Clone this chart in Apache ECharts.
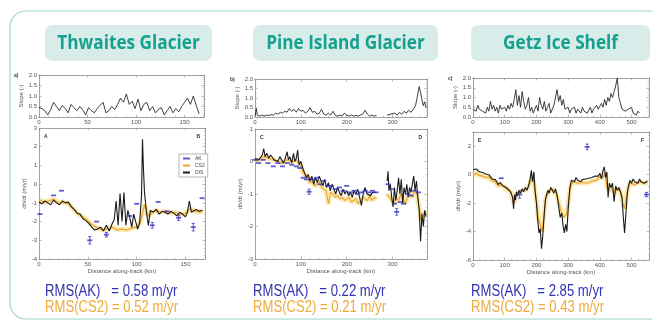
<!DOCTYPE html>
<html>
<head>
<meta charset="utf-8">
<script src="https://cdn.jsdelivr.net/npm/echarts@6/dist/echarts.min.js"></script>
<style>
    html, body { margin: 0; padding: 0; background: #fff; }
    #chart { width: 652px; height: 322px; }
</style>
</head>
<body>
<div id="chart"></div>
<script>
(function() {
    'use strict';

    // panel headers and RMS values
    var glacierNames = ['Thwaites Glacier', 'Pine Island Glacier', 'Getz Ice Shelf'];
    var rmsAk = ['0.58', '0.22', '2.85'];
    var rmsCs2 = ['0.52', '0.21', '0.43'];
    var panelLetters = [['A', 'B'], ['C', 'D'], ['E', 'F']];
    var slopeLetters = ['a)', 'b)', 'c)'];

    // axes
    var distMax = [170, 375, 555];
    var distStep = [50, 100, 100];
    var dhMin = [-4, -3, -6];
    var dhMax = [3, 1, 3];
    var dhStep = [1, 1, 2];
    var slopeTicks = [0, 0.5, 1.0, 1.5, 2.0];
    var legendNames = ['AK', 'CS2', 'DIS'];

    // Thwaites: [distance km, value]
    var thwSlope = [[0,0.45],[3,0.4],[6,0.3],[9,0.1],[12,0.35],[15,0.7],[18,0.5],[21,0.3],[24,0.55],[27,0.4],[30,0.2],[33,0.6],[36,0.45],[39,0.3],[42,0.5],[45,0.35],[48,0.1],[51,0.45],[54,0.3],[57,0.2],[60,0.4],[63,0.55],[66,0.7],[69,0.2],[72,0.3],[75,0.5],[78,0.35],[81,0.6],[84,0.9],[87,0.7],[90,1.1],[93,0.6],[96,0.75],[99,0.4],[102,0.85],[105,0.3],[108,0.6],[111,0.7],[114,0.3],[117,0.5],[120,0.2],[123,0.35],[126,0.45],[129,0.1],[132,0.3],[135,0.5],[138,0.2],[141,0.4],[144,0.25],[147,0.5],[150,0.7],[153,0.9],[156,0.6],[159,1.0],[162,0.55],[165,0.15]];
    var thwDis = [[0,-0.95],[3,-1.05],[6,-0.9],[9,-1.0],[12,-1.1],[15,-0.85],[18,-1.0],[21,-1.1],[24,-0.9],[27,-1.0],[30,-0.95],[33,-1.2],[36,-1.35],[39,-1.55],[42,-1.6],[45,-1.85],[48,-1.95],[51,-2.1],[54,-2.3],[57,-2.45],[60,-2.4],[63,-2.3],[66,-2.5],[69,-2.2],[72,-2.5],[75,-2.1],[77,-1.9],[79,-0.9],[81,-2.2],[83,-0.5],[85,-2.0],[87,-0.45],[89,-2.2],[91,-1.4],[93,-1.8],[95,-2.3],[97,-1.6],[99,-2.0],[101,-2.4],[103,-2.1],[105,-0.6],[106,2.4],[107,0.8],[108,-0.4],[110,-1.5],[112,-2.2],[114,-1.4],[117,-1.5],[120,-1.35],[123,-1.6],[126,-1.45],[129,-1.5],[132,-1.6],[135,-1.45],[138,-1.55],[141,-1.7],[144,-1.5],[147,-1.6],[150,-1.75],[152,-1.5],[154,-0.9],[156,-1.5],[158,-1.6],[161,-1.35],[164,-1.45],[167,-1.4]];
    var thwCs2 = [[0,-0.85],[5,-0.95],[10,-0.9],[15,-0.8],[20,-1.0],[25,-0.95],[30,-1.05],[35,-1.3],[40,-1.6],[45,-1.75],[50,-1.95],[55,-2.2],[60,-2.35],[65,-2.45],[70,-2.4],[75,-2.3],[80,-2.45],[85,-2.4],[90,-2.45],[95,-2.35],[100,-2.3],[104,-2.0],[108,-1.1],[112,-1.7],[116,-1.5],[120,-1.4],[125,-1.5],[130,-1.45],[135,-1.55],[140,-1.5],[145,-1.65],[150,-1.55],[155,-1.3],[160,-1.45],[165,-1.5],[168,-1.4]];
    // [distance, dh/dt, error half-width]
    var thwAk = [[1,-1.6,0],[15,-0.6,0],[23,-0.35,0],[52,-3.0,0.2],[59,-2.0,0],[69,-2.7,0.12],[93,-1.7,0],[100,-1.05,0],[116,-2.2,0.15],[122,-0.95,0],[131,-1.45,0],[143,-1.8,0.15],[158,-2.3,0.2],[167,-0.75,0]];

    // Pine Island
    var pigSlope = [[0,0.05],[3,0.45],[5,0.1],[10,0.05],[15,0.1],[20,0.05],[25,0.1],[30,0.08],[35,0.12],[40,0.1],[45,0.2],[50,0.15],[55,0.25],[60,0.2],[65,0.3],[70,0.25],[75,0.45],[80,0.3],[85,0.4],[90,0.25],[95,0.45],[100,0.3],[105,0.35],[110,0.2],[115,0.3],[120,0.5],[125,0.25],[130,0.3],[135,0.15],[140,0.2],[145,0.4],[150,0.15],[155,0.1],[160,0.2],[165,0.1],[170,0.3],[175,0.08],[180,0.05],[185,0.1],[190,0.05],[195,0.2],[200,0.1],[205,0.05],[210,0.1],[215,0.05],[220,0.08],[225,0.05],[230,0.1],[235,0.15],[240,0.35],[245,0.15],[250,0.05],[255,0.1],[260,0.05],[265,0.08],[268,'-'],[288,0.1],[292,0.05],[296,0.15],[300,0.1],[305,0.2],[310,0.1],[315,0.25],[320,0.15],[325,0.3],[330,0.2],[335,0.35],[340,0.25],[345,0.4],[350,0.6],[355,1.2],[358,1.6],[361,1.3],[364,0.9],[367,0.6],[370,0.8],[373,0.5]];
    var pigDis = [[0,0.1],[4,0.15],[8,0.05],[12,0.1],[16,0.2],[19,0.4],[22,0.15],[26,0.25],[30,0.1],[34,0.2],[38,0.15],[42,0.05],[46,0.1],[50,0.0],[54,0.15],[58,0.05],[62,-0.05],[66,0.1],[70,0.3],[73,0.05],[76,0.15],[80,-0.05],[84,0.25],[87,0.0],[90,0.1],[93,0.35],[96,-0.1],[100,0.0],[104,-0.2],[108,-0.35],[112,-0.5],[116,-0.4],[120,-0.6],[124,-0.45],[128,-0.7],[132,-0.5],[136,-0.65],[140,-0.45],[144,-0.6],[148,-0.75],[152,-0.55],[156,-0.8],[160,-0.65],[164,-0.9],[168,-0.7],[172,-0.85],[176,-1.0],[180,-0.8],[184,-0.95],[188,-1.05],[192,-0.85],[196,-1.0],[200,-0.9],[204,-1.05],[208,-0.95],[212,-1.1],[216,-0.9],[220,-1.0],[224,-0.85],[228,-1.1],[232,-1.35],[236,-1.0],[240,-0.8],[244,-1.0],[248,-0.95],[252,-1.05],[256,-0.95],[260,-1.0],[264,-0.95],[268,'-'],[288,-0.6],[290,-0.3],[292,-0.9],[295,-0.7],[298,-1.1],[301,-1.4],[304,-0.8],[307,-1.2],[310,-0.9],[313,-0.5],[316,-1.0],[319,-0.55],[322,-1.3],[325,-0.8],[328,-1.0],[331,-0.7],[334,-1.1],[337,-0.8],[340,-0.95],[343,-0.7],[346,-0.45],[349,-0.9],[352,-0.6],[355,-1.1],[358,-1.5],[361,-2.45],[364,-1.6],[367,-2.0],[370,-1.5],[373,-1.7]];
    var pigCs2 = [[0,0.0],[10,0.05],[20,0.15],[30,0.1],[40,0.05],[50,0.0],[60,-0.05],[70,0.05],[80,0.0],[90,0.05],[100,-0.15],[105,-0.35],[110,-0.4],[115,-0.5],[120,-0.65],[125,-0.6],[130,-0.75],[135,-0.7],[140,-0.6],[145,-0.8],[150,-0.85],[155,-0.9],[160,-1.3],[165,-0.95],[170,-1.0],[175,-1.1],[180,-1.05],[185,-1.15],[190,-1.1],[195,-1.2],[200,-1.15],[205,-1.1],[210,-1.25],[215,-1.2],[220,-1.15],[225,-1.3],[230,-1.2],[235,-1.1],[240,-1.15],[245,-1.2],[250,-1.05],[255,-1.2],[260,-1.1],[265,-1.15],[268,'-'],[288,-1.0],[293,-1.1],[298,-1.2],[303,-1.3],[308,-1.1],[313,-1.2],[318,-1.0],[323,-1.15],[328,-1.3],[333,-1.05],[338,-1.0],[343,-1.1],[348,-0.9],[353,-1.0],[358,-1.4],[362,-1.8],[366,-1.7],[370,-1.55],[373,-1.6]];
    var pigAk = [[0,0.05,0],[8,-0.05,0],[18,0.05,0],[28,-0.05,0],[40,-0.15,0],[50,-0.05,0],[60,-0.15,0],[70,-0.05,0],[80,-0.1,0],[90,-0.15,0],[98,-0.2,0],[105,-0.5,0],[112,-0.55,0],[118,-0.93,0.08],[126,-0.55,0],[134,-0.5,0],[142,-0.7,0],[150,-0.6,0],[158,-0.75,0],[166,-0.75,0],[175,-0.85,0],[184,-0.8,0],[192,-0.9,0],[200,-0.75,0],[208,-0.95,0],[216,-0.9,0],[224,-1.0,0],[232,-0.95,0],[240,-0.9,0],[248,-0.95,0],[256,-0.9,0],[264,-0.95,0],[290,-0.7,0],[297,-0.85,0],[304,-1.3,0],[309,-1.55,0.1],[316,-1.25,0],[324,-1.3,0],[332,-1.0,0],[340,-1.05,0],[348,-0.9,0],[356,-0.95,0]];

    // Getz
    var getzSlope = [[0,0.4],[5,0.5],[10,0.3],[15,0.6],[20,0.4],[25,0.5],[30,0.3],[35,0.4],[40,0.2],[45,0.5],[50,0.3],[55,0.8],[60,0.4],[65,0.6],[70,0.3],[75,0.5],[80,0.2],[85,0.6],[90,0.4],[95,0.3],[100,0.5],[105,0.3],[110,0.6],[115,0.4],[120,0.7],[125,0.5],[130,0.9],[135,1.4],[140,0.6],[145,1.1],[150,0.5],[155,1.3],[160,0.8],[165,0.4],[170,0.6],[175,1.0],[180,0.3],[185,0.5],[190,0.2],[195,0.4],[200,0.6],[205,0.3],[210,1.0],[215,0.6],[220,0.4],[225,0.8],[230,0.3],[235,0.5],[240,0.7],[245,0.2],[250,0.4],[255,0.6],[260,0.5],[265,1.4],[270,0.8],[275,1.1],[280,0.6],[285,0.9],[290,0.4],[295,0.3],[300,0.5],[305,0.2],[310,0.4],[315,0.3],[320,0.5],[325,0.2],[330,0.4],[335,0.3],[340,0.2],[345,0.5],[350,0.3],[355,0.4],[360,0.2],[365,0.3],[370,0.5],[375,0.2],[380,0.4],[385,0.3],[390,0.6],[395,0.4],[400,0.5],[405,0.7],[410,0.5],[415,0.9],[420,0.6],[425,1.0],[430,0.8],[435,1.2],[440,1.0],[445,1.3],[450,1.6],[455,2.0],[460,1.0],[465,0.7],[470,0.4],[475,0.5],[480,0.3],[485,0.2],[490,0.4],[495,0.3],[500,0.5],[505,0.2],[510,0.3],[515,0.1],[520,0.3],[525,0.2]];
    var getzDis = [[0,0.35],[5,0.25],[10,0.4],[15,0.3],[20,0.2],[25,0.3],[30,0.15],[35,0.2],[40,0.05],[45,0.1],[50,0.0],[55,-0.1],[60,-0.3],[65,-0.2],[70,-0.35],[75,-0.5],[80,-0.7],[85,-0.55],[90,-0.6],[95,-0.8],[100,-0.7],[105,-0.9],[110,-1.0],[115,-1.1],[120,-1.3],[125,-1.6],[128,-2.4],[131,-1.4],[134,-1.8],[137,-1.2],[140,-1.5],[145,-1.1],[150,-1.3],[155,-1.0],[160,-1.2],[165,-0.9],[170,-1.1],[175,-0.8],[180,-0.3],[184,0.3],[188,-0.5],[192,0.2],[196,-1.2],[200,-2.0],[204,-3.2],[208,-4.1],[212,-3.8],[216,-5.2],[220,-4.3],[224,-3.0],[228,-1.8],[232,-1.4],[236,-1.1],[240,-1.3],[245,-0.9],[250,-1.1],[255,-1.3],[260,-1.0],[265,-1.4],[270,-2.2],[275,-3.0],[280,-2.7],[284,-3.6],[288,-4.1],[292,-3.5],[296,-4.0],[300,-2.5],[305,-1.0],[310,-0.4],[315,-0.3],[320,-0.5],[325,-0.2],[330,-0.4],[335,-0.3],[340,-0.5],[345,-0.35],[350,-0.45],[355,-0.3],[360,-0.4],[365,-0.25],[370,-0.35],[375,-0.2],[380,-0.3],[385,-0.1],[390,-0.2],[395,-0.1],[400,0.1],[405,-0.3],[410,0.3],[414,0.55],[418,-0.2],[422,0.2],[426,-1.6],[430,-0.6],[435,-0.9],[440,-0.6],[445,-1.9],[450,-0.8],[455,-1.1],[460,-0.9],[465,-1.2],[470,-1.6],[474,-3.0],[478,-4.1],[482,-2.8],[486,-1.5],[490,-0.8],[495,-0.4],[500,-0.6],[505,-0.3],[510,-0.5],[515,-0.4],[520,-0.6],[525,-0.3],[530,-0.5],[535,-0.4],[540,-0.6],[545,-0.5],[550,-0.45]];
    var getzCs2 = [[0,0.0],[10,0.1],[20,-0.05],[30,-0.1],[40,-0.2],[50,-0.15],[60,-0.4],[70,-0.5],[80,-0.8],[90,-0.7],[100,-0.9],[110,-1.1],[120,-1.2],[128,-2.0],[134,-1.5],[140,-1.3],[150,-1.2],[160,-1.1],[170,-1.0],[180,-0.6],[186,-0.2],[192,-0.6],[200,-1.8],[206,-3.0],[212,-3.5],[218,-4.0],[224,-2.8],[230,-1.6],[240,-1.2],[250,-1.0],[260,-1.2],[270,-1.9],[278,-2.6],[286,-3.0],[294,-2.8],[300,-2.0],[308,-0.8],[315,-0.5],[330,-0.6],[345,-0.55],[360,-0.6],[375,-0.45],[390,-0.4],[400,-0.1],[410,-0.2],[416,0.1],[424,-1.0],[432,-0.8],[445,-1.3],[455,-1.0],[465,-1.2],[472,-2.0],[478,-2.4],[486,-1.2],[495,-0.6],[510,-0.7],[525,-0.5],[540,-0.6],[550,-0.55]];
    var getzAk = [[89,-0.25,0],[147,-1.4,0.25],[360,1.95,0.2],[547,-1.4,0.15]];

    var slopeData = [thwSlope, pigSlope, getzSlope];
    var disData = [thwDis, pigDis, getzDis];
    var cs2Data = [thwCs2, pigCs2, getzCs2];
    var akData = [thwAk, pigAk, getzAk];

    // plot boxes in px
    var boxes = [
        { slope: { left: 39, top: 75, width: 165, height: 42 }, main: { left: 39, top: 128, width: 166, height: 131 } },
        { slope: { left: 255, top: 79, width: 172, height: 38 }, main: { left: 255, top: 129, width: 172, height: 130 } },
        { slope: { left: 473, top: 78, width: 176, height: 39 }, main: { left: 473, top: 132, width: 176, height: 128 } }
    ];
    var pills = [{ x: 45, w: 167 }, { x: 253, w: 185 }, { x: 471, w: 179 }];

    var AK_COLOR = '#3535c4';
    var CS2_COLOR = '#efa62e';
    var DIS_COLOR = '#1b1b1b';
    var AXIS_COLOR = '#8c8c8c';

    var option = {
        animation: false,
        backgroundColor: '#fff',
        grid: [],
        xAxis: [],
        yAxis: [],
        series: [],
        graphic: [],
        legend: {
            data: legendNames,
            orient: 'vertical',
            left: 179,
            top: 154,
            itemWidth: 7,
            itemHeight: 2,
            itemGap: 2,
            padding: [2, 3],
            borderColor: '#888',
            borderWidth: 0.6,
            backgroundColor: '#fff',
            textStyle: { fontSize: 5, color: '#444', fontFamily: 'Liberation Sans' }
        }
    };

    function onStep(v, step) {
        return Math.abs(Math.round(v / step) * step - v) < 1e-6;
    }

    function addAxes(gi, xmax, xstep, ymin, ymax, ystep, xName, yName, digits) {
        var line = { show: true, onZero: false, lineStyle: { color: AXIS_COLOR, width: 0.8 } };
        var tick = { show: true, inside: true, length: 2.5, lineStyle: { color: AXIS_COLOR, width: 0.6 } };
        var minor = { show: true, splitNumber: 5, length: 1.3, lineStyle: { color: '#a0a0a0', width: 0.5 } };
        var label = { fontSize: 6, color: '#555', margin: 2, fontFamily: 'Liberation Sans' };
        var nameStyle = { fontSize: 6, color: '#555', fontFamily: 'Liberation Sans' };
        ['bottom', 'top'].forEach(function(pos) {
            option.xAxis.push({
                type: 'value', gridIndex: gi, position: pos, min: 0, max: xmax, interval: xstep,
                axisLine: line, axisTick: tick, minorTick: minor, splitLine: { show: false },
                axisLabel: pos === 'bottom' ? Object.assign({}, label, {
                    formatter: function(v) { return onStep(v, xstep) ? String(v) : ''; }
                }) : { show: false },
                name: pos === 'bottom' ? xName : '', nameLocation: 'middle', nameGap: 9, nameTextStyle: nameStyle
            });
        });
        ['left', 'right'].forEach(function(pos) {
            option.yAxis.push({
                type: 'value', gridIndex: gi, position: pos, min: ymin, max: ymax, interval: ystep,
                axisLine: line, axisTick: tick, minorTick: minor, splitLine: { show: false },
                axisLabel: pos === 'left' ? Object.assign({}, label, {
                    formatter: function(v) { return onStep(v, ystep) ? v.toFixed(digits) : ''; }
                }) : { show: false },
                name: pos === 'left' ? yName : '', nameLocation: 'middle', nameGap: digits ? 13 : 10, nameTextStyle: nameStyle
            });
        });
    }

    function text(x, y, str, font, color, align, sx) {
        return {
            type: 'text', x: x, y: y, scaleX: sx || 1, z: 10,
            style: { x: 0, y: 0, text: str, font: font, fill: color, align: align, textAlign: align, verticalAlign: 'middle', textVerticalAlign: 'middle' }
        };
    }

    // outer frame
    option.graphic.push({
        type: 'rect', shape: { x: 10, y: 11, width: 690, height: 308, r: 16 },
        style: { fill: 'none', stroke: '#9ed6ca', lineWidth: 1.2 }, z: 1
    });

    glacierNames.forEach(function(name, p) {
        var b = boxes[p];
        var gs = p * 2, gm = p * 2 + 1;
        option.grid.push(Object.assign({ show: false, outerBoundsMode: 'none' }, b.slope));
        option.grid.push(Object.assign({ show: false, outerBoundsMode: 'none' }, b.main));
        addAxes(gs, distMax[p], distStep[p], slopeTicks[0], slopeTicks[slopeTicks.length - 1], slopeTicks[1] - slopeTicks[0], '', 'Slope (-)', 1);
        addAxes(gm, distMax[p], distStep[p], dhMin[p], dhMax[p], dhStep[p], 'Distance along-track (km)', 'dh/dt (m/yr)', 0);

        option.series.push({
            type: 'line', xAxisIndex: gs * 2, yAxisIndex: gs * 2, data: slopeData[p], symbol: 'none',
            lineStyle: { color: '#2a2a2a', width: 0.9 }, silent: true
        });
        option.series.push({
            type: 'line', name: 'cs2 band', xAxisIndex: gm * 2, yAxisIndex: gm * 2, data: cs2Data[p], symbol: 'none',
            lineStyle: { color: 'rgba(244,214,110,0.5)', width: 5 }, silent: true, z: 2
        });
        option.series.push({
            type: 'line', name: 'CS2', xAxisIndex: gm * 2, yAxisIndex: gm * 2, data: cs2Data[p], symbol: 'none',
            lineStyle: { color: CS2_COLOR, width: 1.2 }, itemStyle: { color: CS2_COLOR }, silent: true, z: 3
        });
        option.series.push({
            type: 'line', name: 'DIS', xAxisIndex: gm * 2, yAxisIndex: gm * 2, data: disData[p], symbol: 'none',
            lineStyle: { color: DIS_COLOR, width: 1.1 }, itemStyle: { color: DIS_COLOR }, silent: true, z: 4
        });
        option.series.push({
            type: 'scatter', name: 'AK', xAxisIndex: gm * 2, yAxisIndex: gm * 2, data: akData[p],
            symbol: 'rect', symbolSize: [5, 1.8], itemStyle: { color: AK_COLOR }, silent: true, z: 5
        });
        option.series.push({
            type: 'custom', name: 'AK err', xAxisIndex: gm * 2, yAxisIndex: gm * 2, silent: true, z: 5,
            data: akData[p].filter(function(d) { return d[2] > 0; }),
            renderItem: function(params, api) {
                var x = api.value(0), y = api.value(1), e = api.value(2);
                var hi = api.coord([x, y + e]), lo = api.coord([x, y - e]);
                var st = { stroke: AK_COLOR, lineWidth: 0.8 };
                return {
                    type: 'group', children: [
                        { type: 'line', shape: { x1: hi[0], y1: hi[1], x2: lo[0], y2: lo[1] }, style: st },
                        { type: 'line', shape: { x1: hi[0] - 1.5, y1: hi[1], x2: hi[0] + 1.5, y2: hi[1] }, style: st },
                        { type: 'line', shape: { x1: lo[0] - 1.5, y1: lo[1], x2: lo[0] + 1.5, y2: lo[1] }, style: st }
                    ]
                };
            }
        });

        // header pill
        option.graphic.push({
            type: 'rect', shape: { x: pills[p].x, y: 25, width: pills[p].w, height: 36, r: 7 },
            style: { fill: '#d8edea' }, z: 5
        });
        option.graphic.push(text(pills[p].x + pills[p].w / 2, 43.5, name, 'bold 20px "Open Sans"', '#16a08f', 'center', 0.86));

        // RMS lines
        option.graphic.push(text(pills[p].x, 292, 'RMS(AK)   = ' + rmsAk[p] + ' m/yr', '16px "Liberation Sans"', '#3131b3', 'left', 0.82));
        option.graphic.push(text(pills[p].x, 308, 'RMS(CS2) = ' + rmsCs2[p] + ' m/yr', '16px "Liberation Sans"', '#f0aa3a', 'left', 0.82));

        // panel letters
        option.graphic.push(text(b.main.left + 5, b.main.top + 9, panelLetters[p][0], 'bold 5px "Liberation Sans"', '#333', 'left'));
        option.graphic.push(text(b.main.left + b.main.width - 5, b.main.top + 9, panelLetters[p][1], 'bold 5px "Liberation Sans"', '#333', 'right'));
        option.graphic.push(text(b.slope.left - 25, b.slope.top + 1, slopeLetters[p], 'bold 5px "Liberation Sans"', '#333', 'left'));
    });

    var myChart = echarts.init(document.getElementById('chart'), null, { renderer: 'canvas' });
    myChart.setOption(option);
})();
</script>
</body>
</html>
